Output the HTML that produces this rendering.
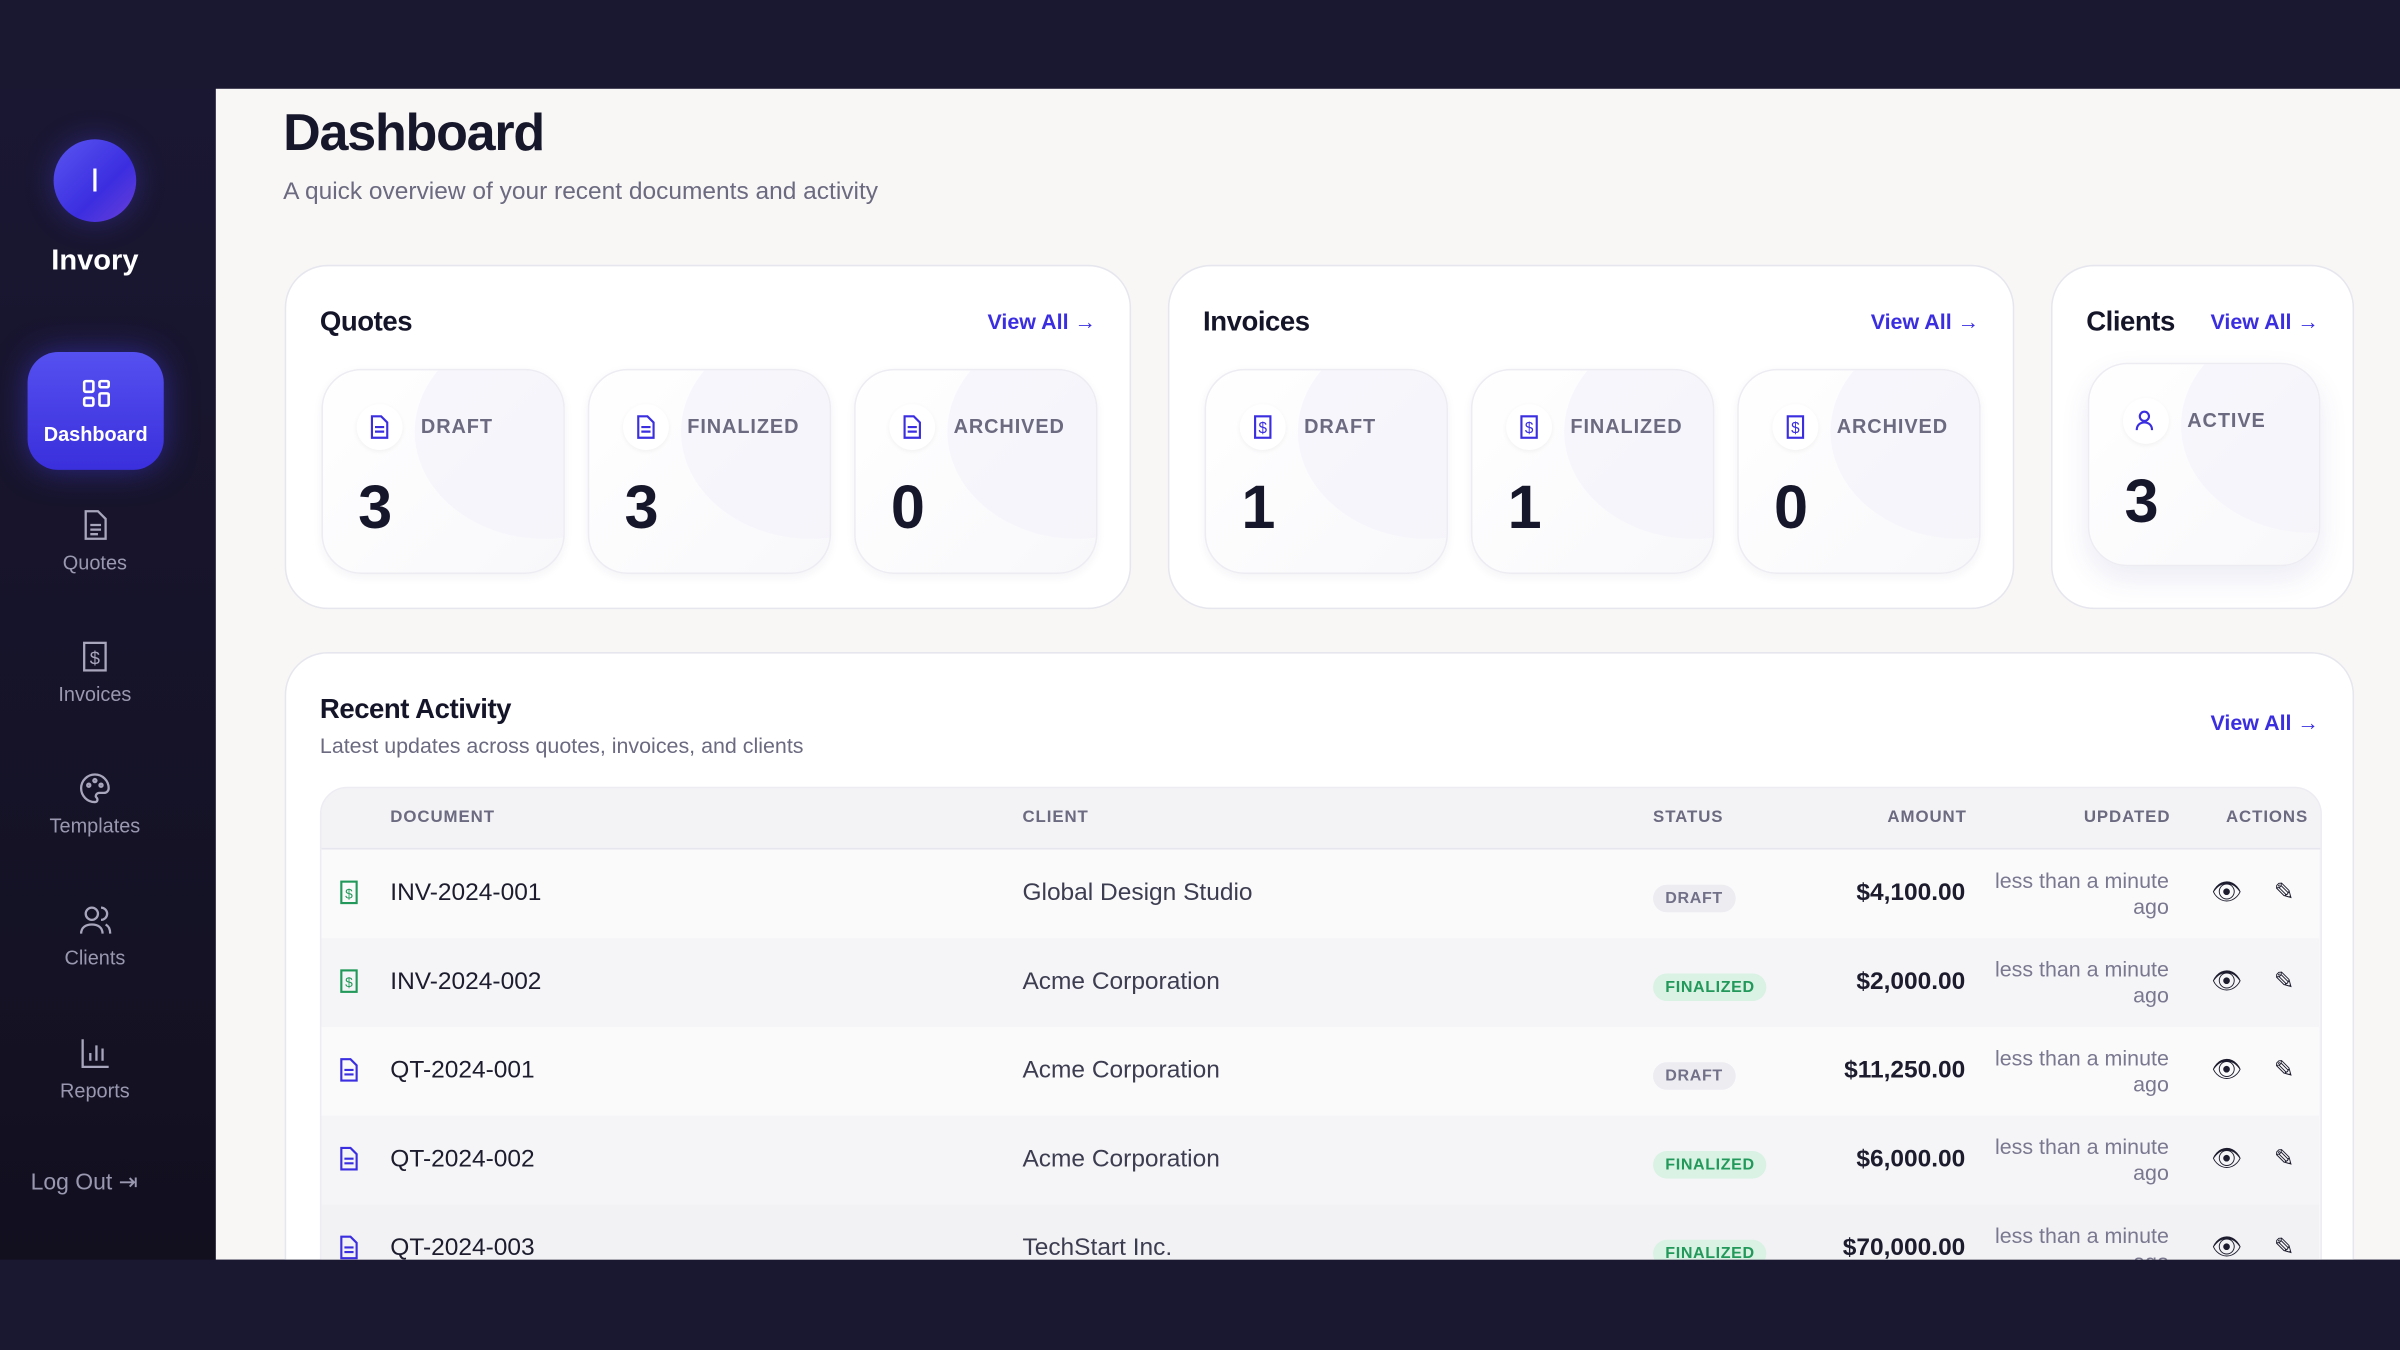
<!DOCTYPE html>
<html><head><meta charset="utf-8"><style>
html,body{margin:0;padding:0;width:2400px;height:1350px;overflow:hidden;background:#1a1730;font-family:"Liberation Sans",sans-serif}
#w{position:absolute;left:0;top:0;width:1568px;height:882px;transform:scale(1.530612);transform-origin:0 0;background:#1a1730}
.a{position:absolute}
#side{left:0;top:58px;width:141px;height:765px;background:linear-gradient(#1a1733,#12101f)}
#main{left:141px;top:58px;width:1427px;height:765px;background:#f8f7f6;overflow:hidden}
.nav{position:absolute;left:0;width:124px;text-align:center;color:#9a98b0;font-size:13px}
.nav svg{display:block;margin:0 auto 6px}
.card{position:absolute;background:#fff;border:1px solid #e6e6ee;border-radius:28px;box-sizing:border-box}
.ct{position:absolute;font-size:18px;font-weight:bold;color:#15152a;letter-spacing:-.3px}
.va{position:absolute;font-size:14px;font-weight:bold;color:#3a2ee0}
.tile{position:absolute;width:159px;height:134px;border-radius:26px;border:1px solid #ececf2;box-sizing:border-box;background:linear-gradient(135deg,#fff 0%,#f8f8fb 100%);overflow:hidden;box-shadow:0 2px 6px rgba(40,40,90,.05)}
.tile:before{content:"";position:absolute;left:60px;top:-30px;width:170px;height:140px;border-radius:50%;background:#f3f2fa;opacity:.6}
.ic{position:absolute;left:22px;top:22px;width:30px;height:30px;border-radius:50%;background:#fff;box-shadow:0 1px 3px rgba(0,0,0,.05)}
.ic svg{position:absolute;left:8px;top:7px}
.tl{position:absolute;left:64px;top:29px;font-size:13px;font-weight:bold;letter-spacing:.6px;color:#6b6a80}
.tn{position:absolute;left:23px;top:68px;font-size:40px;font-weight:bold;color:#17172b}
.row{position:absolute;left:0;width:1305px;height:58px;font-size:16px;color:#1c1c2e}
.row span{position:absolute}
.b{font-size:10.5px;font-weight:bold;letter-spacing:.4px;padding:3px 8px;border-radius:9px}
.dr{background:#ececf1;color:#727088}
.fi{background:#d9f2e4;color:#22995a}
.up{right:98px;width:130px;text-align:right;font-size:14px;color:#7a7890;line-height:17px}
.th{position:absolute;top:13px;font-size:11px;font-weight:bold;letter-spacing:.6px;color:#6b6a80}
.di{left:12px;top:20px}
</style></head><body><div id="w">
<div class="a" id="side">
 <div class="a" style="left:35px;top:33px;width:54px;height:54px;border-radius:50%;background:linear-gradient(135deg,#5a55f0,#3b2ee0 60%,#6a3fd8);box-shadow:0 0 18px rgba(80,70,240,.35);color:#fff;font-size:22px;text-align:center;line-height:54px">I</div>
 <div class="a" style="left:0;width:124px;top:102px;text-align:center;color:#fff;font-size:19px;font-weight:bold">Invory</div>
 <div class="a" style="left:18px;top:172px;width:89px;height:77px;border-radius:20px;background:linear-gradient(#5550f0,#3a2fdc);box-shadow:0 0 20px rgba(70,60,230,.5)">
  <svg class="a" style="left:35px;top:17px" width="20" height="20" viewBox="0 0 20 20" fill="none" stroke="#fff" stroke-width="1.7"><rect x="2" y="2" width="6" height="7" rx="1"/><rect x="12" y="2" width="6" height="4" rx="1"/><rect x="2" y="13" width="6" height="5" rx="1"/><rect x="12" y="10" width="6" height="8" rx="1"/></svg>
  <div class="a" style="left:0;width:89px;top:46px;text-align:center;color:#fff;font-size:13px;font-weight:bold">Dashboard</div>
 </div>
 <div class="nav" style="top:274px"><svg width="20" height="22" viewBox="0 0 20 22" fill="none" stroke="#a8a6bc" stroke-width="1.5"><path d="M4 2h8l5 5v13H4z"/><path d="M7 11h7M7 14h7M7 17h5"/></svg>Quotes</div>
 <div class="nav" style="top:360px"><svg width="20" height="22" viewBox="0 0 20 22" fill="none" stroke="#a8a6bc" stroke-width="1.5"><rect x="3" y="2" width="14" height="18"/><text x="10" y="16" font-size="12" text-anchor="middle" fill="#a8a6bc" stroke="none">$</text></svg>Invoices</div>
 <div class="nav" style="top:446px"><svg width="22" height="22" viewBox="0 0 22 22" fill="none" stroke="#a8a6bc" stroke-width="1.5"><path d="M11 2a9 9 0 1 0 0 18c2 0 2-2 1-3s0-3 2-3h3a3 3 0 0 0 3-3c0-5-4-9-9-9z"/><circle cx="7" cy="9" r="1"/><circle cx="11" cy="6" r="1"/><circle cx="15" cy="9" r="1"/></svg>Templates</div>
 <div class="nav" style="top:532px"><svg width="22" height="22" viewBox="0 0 22 22" fill="none" stroke="#a8a6bc" stroke-width="1.5"><circle cx="9" cy="7" r="4"/><path d="M2 20c0-4 3-6 7-6s7 2 7 6M15 3a4 4 0 0 1 0 8M18 14c2 1 3 3 3 6"/></svg>Clients</div>
 <div class="nav" style="top:619px"><svg width="22" height="22" viewBox="0 0 22 22" fill="none" stroke="#a8a6bc" stroke-width="1.5"><path d="M3 2v18h17M8 16v-5M12 16V6M16 16v-8"/></svg>Reports</div>
 <div class="a" style="left:20px;top:705px;color:#9a98b0;font-size:15px">Log Out ⇥</div>
</div>
<div class="a" id="main">
 <div class="a" style="left:44px;top:10px;font-size:34px;font-weight:bold;color:#17172b;letter-spacing:-.8px">Dashboard</div>
 <div class="a" style="left:44px;top:59px;font-size:16px;color:#6b6a80">A quick overview of your recent documents and activity</div>

 <div class="card" style="left:45px;top:115px;width:553px;height:225px">
  <div class="ct" style="left:22px;top:26px">Quotes</div><div class="va" style="right:22px;top:28px">View All →</div>
  <div class="tile" style="left:23px;top:67px"><div class="ic"><svg width="14" height="16" viewBox="0 0 14 16" fill="none" stroke="#3a2ee0" stroke-width="1.4"><path d="M2 1h6l4 4v10H2z"/><path d="M4 8h6M4 11h6"/></svg></div><div class="tl">DRAFT</div><div class="tn">3</div></div>
  <div class="tile" style="left:197px;top:67px"><div class="ic"><svg width="14" height="16" viewBox="0 0 14 16" fill="none" stroke="#3a2ee0" stroke-width="1.4"><path d="M2 1h6l4 4v10H2z"/><path d="M4 8h6M4 11h6"/></svg></div><div class="tl">FINALIZED</div><div class="tn">3</div></div>
  <div class="tile" style="left:371px;top:67px"><div class="ic"><svg width="14" height="16" viewBox="0 0 14 16" fill="none" stroke="#3a2ee0" stroke-width="1.4"><path d="M2 1h6l4 4v10H2z"/><path d="M4 8h6M4 11h6"/></svg></div><div class="tl">ARCHIVED</div><div class="tn">0</div></div>
 </div>
 <div class="card" style="left:622px;top:115px;width:553px;height:225px">
  <div class="ct" style="left:22px;top:26px">Invoices</div><div class="va" style="right:22px;top:28px">View All →</div>
  <div class="tile" style="left:23px;top:67px"><div class="ic"><svg width="14" height="16" viewBox="0 0 14 16" fill="none" stroke="#3a2ee0" stroke-width="1.4"><rect x="2" y="1" width="10" height="14"/><text x="7" y="12" font-size="10" text-anchor="middle" fill="#3a2ee0" stroke="none">$</text></svg></div><div class="tl">DRAFT</div><div class="tn">1</div></div>
  <div class="tile" style="left:197px;top:67px"><div class="ic"><svg width="14" height="16" viewBox="0 0 14 16" fill="none" stroke="#3a2ee0" stroke-width="1.4"><rect x="2" y="1" width="10" height="14"/><text x="7" y="12" font-size="10" text-anchor="middle" fill="#3a2ee0" stroke="none">$</text></svg></div><div class="tl">FINALIZED</div><div class="tn">1</div></div>
  <div class="tile" style="left:371px;top:67px"><div class="ic"><svg width="14" height="16" viewBox="0 0 14 16" fill="none" stroke="#3a2ee0" stroke-width="1.4"><rect x="2" y="1" width="10" height="14"/><text x="7" y="12" font-size="10" text-anchor="middle" fill="#3a2ee0" stroke="none">$</text></svg></div><div class="tl">ARCHIVED</div><div class="tn">0</div></div>
 </div>
 <div class="card" style="left:1199px;top:115px;width:198px;height:225px">
  <div class="ct" style="left:22px;top:26px">Clients</div><div class="va" style="right:22px;top:28px">View All →</div>
  <div class="tile" style="left:23px;top:63px;width:152px;height:133px;box-shadow:0 8px 18px rgba(70,70,160,.1)"><div class="ic"><svg width="14" height="16" viewBox="0 0 14 16" fill="none" stroke="#3a2ee0" stroke-width="1.4"><circle cx="6" cy="5" r="3"/><path d="M1 14c0-3 2-5 5-5s5 2 5 5"/></svg></div><div class="tl">ACTIVE</div><div class="tn">3</div></div>
 </div>

 <div class="card" style="left:45px;top:368px;width:1352px;height:450px">
  <div class="ct" style="left:22px;top:26px">Recent Activity</div>
  <div class="a" style="left:22px;top:52px;font-size:14px;color:#6b6a80">Latest updates across quotes, invoices, and clients</div>
  <div class="va" style="right:22px;top:37px">View All →</div>
  <div class="a" style="left:22px;top:87px;width:1306px;height:400px;border:1px solid #ececf2;border-radius:18px;overflow:hidden;background:#f7f7f9">
   <div class="a" style="left:0;top:0;width:1306px;height:39px;background:#f3f3f6;border-bottom:1px solid #e6e6ee">
    <span class="th" style="left:45px">DOCUMENT</span><span class="th" style="left:458px">CLIENT</span><span class="th" style="left:870px">STATUS</span><span class="th" style="right:231px">AMOUNT</span><span class="th" style="right:98px">UPDATED</span><span class="th" style="right:8px">ACTIONS</span>
   </div>
   <div class="row" style="top:40px;background:#fafafa"><span class="di"><svg width="12" height="16" viewBox="0 0 12 16" fill="none" stroke="#22995a" stroke-width="1.4"><rect x="1" y="1" width="10" height="14"/><text x="6" y="12" font-size="9" text-anchor="middle" fill="#22995a" stroke="none">$</text></svg></span><span style="left:45px;top:20px">INV-2024-001</span><span style="left:458px;top:20px;color:#3d3d52">Global Design Studio</span><span class="b dr" style="left:870px;top:23px">DRAFT</span><span style="right:231px;top:20px;font-weight:bold">$4,100.00</span><span class="up" style="top:12px">less than a minute<br>ago</span><span style="right:50px;top:18px">👁</span><span style="right:16px;top:18px">✎</span></div>
   <div class="row" style="top:98px;background:#f5f5f7"><span class="di"><svg width="12" height="16" viewBox="0 0 12 16" fill="none" stroke="#22995a" stroke-width="1.4"><rect x="1" y="1" width="10" height="14"/><text x="6" y="12" font-size="9" text-anchor="middle" fill="#22995a" stroke="none">$</text></svg></span><span style="left:45px;top:20px">INV-2024-002</span><span style="left:458px;top:20px;color:#3d3d52">Acme Corporation</span><span class="b fi" style="left:870px;top:23px">FINALIZED</span><span style="right:231px;top:20px;font-weight:bold">$2,000.00</span><span class="up" style="top:12px">less than a minute<br>ago</span><span style="right:50px;top:18px">👁</span><span style="right:16px;top:18px">✎</span></div>
   <div class="row" style="top:156px;background:#fafafa"><span class="di"><svg width="12" height="16" viewBox="0 0 12 16" fill="none" stroke="#3a2ee0" stroke-width="1.4"><path d="M1 1h6l4 4v10H1z"/><path d="M3 8h6M3 11h6"/></svg></span><span style="left:45px;top:20px">QT-2024-001</span><span style="left:458px;top:20px;color:#3d3d52">Acme Corporation</span><span class="b dr" style="left:870px;top:23px">DRAFT</span><span style="right:231px;top:20px;font-weight:bold">$11,250.00</span><span class="up" style="top:12px">less than a minute<br>ago</span><span style="right:50px;top:18px">👁</span><span style="right:16px;top:18px">✎</span></div>
   <div class="row" style="top:214px;background:#f5f5f7"><span class="di"><svg width="12" height="16" viewBox="0 0 12 16" fill="none" stroke="#3a2ee0" stroke-width="1.4"><path d="M1 1h6l4 4v10H1z"/><path d="M3 8h6M3 11h6"/></svg></span><span style="left:45px;top:20px">QT-2024-002</span><span style="left:458px;top:20px;color:#3d3d52">Acme Corporation</span><span class="b fi" style="left:870px;top:23px">FINALIZED</span><span style="right:231px;top:20px;font-weight:bold">$6,000.00</span><span class="up" style="top:12px">less than a minute<br>ago</span><span style="right:50px;top:18px">👁</span><span style="right:16px;top:18px">✎</span></div>
   <div class="row" style="top:272px;background:#f2f2f4"><span class="di"><svg width="12" height="16" viewBox="0 0 12 16" fill="none" stroke="#3a2ee0" stroke-width="1.4"><path d="M1 1h6l4 4v10H1z"/><path d="M3 8h6M3 11h6"/></svg></span><span style="left:45px;top:20px">QT-2024-003</span><span style="left:458px;top:20px;color:#3d3d52">TechStart Inc.</span><span class="b fi" style="left:870px;top:23px">FINALIZED</span><span style="right:231px;top:20px;font-weight:bold">$70,000.00</span><span class="up" style="top:12px">less than a minute<br>ago</span><span style="right:50px;top:18px">👁</span><span style="right:16px;top:18px">✎</span></div>
  </div>
 </div>
</div>
<div class="a" style="left:0;top:823px;width:1568px;height:59px;background:#1a1730"></div>
</div></body></html>
